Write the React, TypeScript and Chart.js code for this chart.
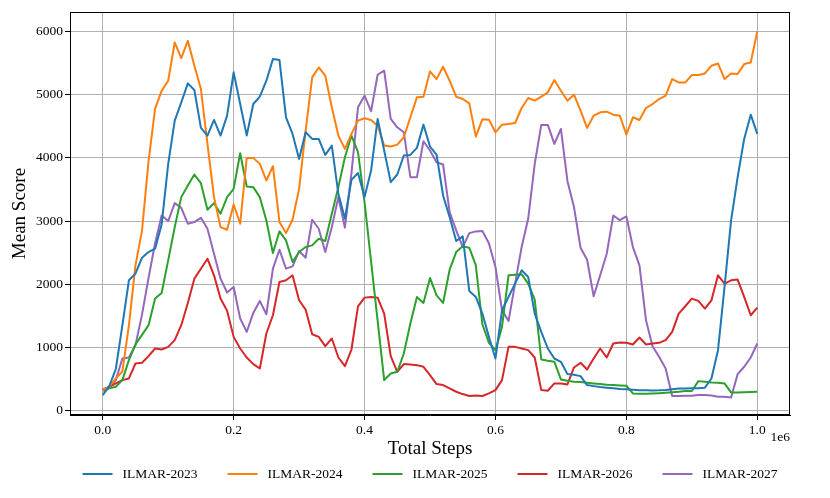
import { useEffect, useRef } from 'react';
import { Chart, registerables } from 'chart.js';

Chart.register(...registerables);

const SERIES_NAMES = ['ILMAR-2023', 'ILMAR-2024', 'ILMAR-2025', 'ILMAR-2026', 'ILMAR-2027'];
const SERIES_COLORS = ['#1f77b4', '#ff7f0e', '#2ca02c', '#d62728', '#9467bd'];

const ilmar2023 = [
  247, 390, 660, 1350, 2063, 2168, 2421, 2510, 2563, 2947,
  3900, 4589, 4879, 5179, 5074, 4474, 4353, 4600, 4353, 4668,
  5353, 4852, 4353, 4852, 4968, 5221, 5563, 5547, 4642, 4379,
  3984, 4405, 4300, 4300, 4047, 4195, 3431, 3037, 3652, 3760,
  3379, 3800, 4616, 4116, 3616, 3737, 4037, 4047, 4158, 4526,
  4179, 4053, 3405, 3063, 2684, 2758, 1895, 1800, 1537, 1168,
  826, 1589, 1800, 2010, 2221, 2116, 1537, 1247, 984, 826,
  774, 579, 568, 547, 405, 389, 375, 365, 355, 345,
  340, 332, 325, 322, 320, 322, 328, 338, 350, 353,
  355, 355, 365, 510, 958, 1958, 3010, 3695, 4300, 4684,
  4379,
];

const ilmar2024 = [
  326, 379, 510, 620, 1350, 2300, 2850, 3950, 4780, 5060,
  5220, 5826, 5579, 5852, 5458, 5089, 4221, 3379, 2905, 2863,
  3263, 2958, 4000, 4000, 3905, 3642, 3868, 2984, 2810, 3021,
  3510, 4431, 5273, 5431, 5300, 4800, 4353, 4142, 4379, 4589,
  4626, 4600, 4510, 4195, 4179, 4210, 4326, 4642, 4958, 4968,
  5368, 5247, 5442, 5221, 4968, 4931, 4863, 4337, 4610, 4605,
  4405, 4526, 4537, 4552, 4789, 4947, 4905, 4968, 5037, 5231,
  5063, 4905, 5000, 4747, 4474, 4668, 4721, 4731, 4684, 4668,
  4368, 4642, 4600, 4789, 4852, 4931, 4984, 5247, 5194, 5194,
  5310, 5310, 5336, 5458, 5494, 5247, 5336, 5326, 5484, 5510,
  6000,
];

const ilmar2025 = [
  316, 353, 379, 484, 800, 1050, 1200, 1353, 1774, 1863,
  2379, 2905, 3379, 3563, 3737, 3600, 3179, 3284, 3116, 3379,
  3510, 4074, 3547, 3537, 3379, 3010, 2495, 2837, 2695, 2353,
  2510, 2589, 2616, 2721, 2684, 3116, 3537, 4010, 4353, 4090,
  3300, 2360, 1420, 484, 589, 616, 905, 1379, 1800, 1705,
  2100, 1826, 1705, 2231, 2510, 2600, 2579, 2300, 1368, 1074,
  958, 1326, 2142, 2152, 2158, 2010, 1758, 810, 789, 774,
  495, 474, 458, 453, 442, 432, 421, 410, 405, 400,
  395, 274, 270, 268, 272, 278, 284, 292, 300, 311,
  311, 468, 458, 447, 442, 432, 289, 289, 292, 295,
  300,
];

const ilmar2026 = [
  326, 379, 432, 484, 510, 747, 758, 863, 984, 968,
  1010, 1116, 1353, 1705, 2089, 2247, 2405, 2142, 1774, 1580,
  1168, 984, 842, 737, 668, 1221, 1510, 2037, 2063, 2142,
  1747, 1600, 1210, 1168, 1021, 1142, 842, 705, 968, 1650,
  1789, 1800, 1789, 1537, 863, 616, 737, 731, 721, 695,
  563, 421, 405, 353, 300, 263, 232, 242, 232, 274,
  326, 484, 1010, 1010, 984, 958, 842, 326, 316, 432,
  432, 416, 684, 758, 653, 826, 984, 842, 1063, 1080,
  1074, 1047, 1158, 1047, 1063, 1074, 1116, 1247, 1537, 1653,
  1774, 1737, 1616, 1747, 2142, 2010, 2063, 2074, 1800, 1510,
  1631,
];

const ilmar2027 = [
  337, 379, 484, 826, 842, 1037, 1520, 2100, 2650, 3089,
  3000, 3284, 3210, 2958, 2984, 3052, 2879, 2484, 2089, 1870,
  1958, 1458, 1247, 1547, 1737, 1526, 2247, 2547, 2247, 2284,
  2526, 2421, 3021, 2879, 2510, 2905, 3379, 2895, 3758, 4800,
  4984, 4737, 5315, 5379, 4616, 4484, 4405, 3695, 3695, 4263,
  4116, 3931, 3895, 3142, 2852, 2589, 2810, 2837, 2842, 2650,
  2274, 1589, 1421, 2010, 2589, 3037, 3905, 4521, 4521, 4221,
  4458, 3631, 3221, 2579, 2389, 1810, 2142, 2484, 3089, 3015,
  3073, 2589, 2300, 1431, 1021, 853, 668, 232, 232, 237,
  237, 247, 247, 242, 221, 221, 210, 579, 695, 842,
  1063,
];

const SERIES_VALUES = [ilmar2023, ilmar2024, ilmar2025, ilmar2026, ilmar2027];

const STEP_INTERVAL = 10000;
const totalSteps = ilmar2023.map((_, i) => i * STEP_INTERVAL);

const xTickValues = [0, 200000, 400000, 600000, 800000, 1000000];
const xTickLabels = ['0.0', '0.2', '0.4', '0.6', '0.8', '1.0'];
const yTickValues = [0, 1000, 2000, 3000, 4000, 5000, 6000];
const yTickLabels = ['0', '1000', '2000', '3000', '4000', '5000', '6000'];

const X_TITLE = 'Total Steps';
const Y_TITLE = 'Mean Score';
const X_OFFSET_TEXT = '1e6';

const FONT = "'Liberation Serif', 'DejaVu Serif', serif";
const TICK_SIZE = 13.5;
const TITLE_SIZE = 19;

const framePlugin = {
  id: 'frame',
  afterDatasetsDraw(chart: any) {
    const { ctx, chartArea } = chart;
    ctx.save();
    ctx.strokeStyle = '#000';
    ctx.lineWidth = 1;
    ctx.strokeRect(
      Math.round(chartArea.left) + 0.5,
      Math.round(chartArea.top) + 0.5,
      Math.round(chartArea.right - chartArea.left) - 1,
      Math.round(chartArea.bottom - chartArea.top) - 1
    );
    ctx.restore();
  },
};

const offsetTextPlugin = {
  id: 'offsetText',
  afterDraw(chart: any) {
    const { ctx, chartArea } = chart;
    ctx.save();
    ctx.font = `${TICK_SIZE}px ${FONT}`;
    ctx.fillStyle = '#000';
    ctx.textAlign = 'right';
    ctx.textBaseline = 'middle';
    ctx.fillText(X_OFFSET_TEXT, chartArea.right, 437);
    ctx.restore();
  },
};

const bottomLegendPlugin = {
  id: 'bottomLegend',
  afterDraw(chart: any) {
    const { ctx, chartArea } = chart;
    const datasets = chart.data.datasets;
    const lineLen = 30;
    const gapText = 10;
    const gapItem = 30;
    const y = 474;
    ctx.save();
    ctx.font = `${TICK_SIZE}px ${FONT}`;
    const widths = datasets.map((d: any) => ctx.measureText(d.label).width);
    const total =
      widths.reduce((a: number, w: number) => a + lineLen + gapText + w, 0) +
      gapItem * (datasets.length - 1);
    let x = (chartArea.left + chartArea.right) / 2 - total / 2;
    datasets.forEach((d: any, i: number) => {
      ctx.strokeStyle = d.borderColor;
      ctx.lineWidth = 2;
      ctx.beginPath();
      ctx.moveTo(x, y);
      ctx.lineTo(x + lineLen, y);
      ctx.stroke();
      ctx.fillStyle = '#000';
      ctx.textAlign = 'left';
      ctx.textBaseline = 'middle';
      ctx.fillText(d.label, x + lineLen + gapText, y);
      x += lineLen + gapText + widths[i] + gapItem;
    });
    ctx.restore();
  },
};

export default function App() {
  const canvasRef = useRef<HTMLCanvasElement | null>(null);

  useEffect(() => {
    document.body.style.margin = '0';
    const canvas = canvasRef.current;
    if (!canvas) return;
    const chart = new Chart(canvas, {
      type: 'line',
      data: {
        labels: totalSteps,
        datasets: SERIES_VALUES.map((vals, i) => ({
          label: SERIES_NAMES[i],
          data: vals,
          borderColor: SERIES_COLORS[i],
          backgroundColor: SERIES_COLORS[i],
          borderWidth: 2,
          pointRadius: 0,
          pointHoverRadius: 0,
          tension: 0,
          fill: false,
          borderJoinStyle: 'round' as const,
        })),
      },
      options: {
        animation: false,
        responsive: false,
        maintainAspectRatio: false,
        devicePixelRatio: 1,
        layout: { padding: { left: 0, right: 40, top: 12, bottom: 0 } },
        plugins: {
          legend: { display: false },
          tooltip: { enabled: false },
        },
        scales: {
          x: {
            type: 'linear',
            min: -50000,
            max: 1050000,
            afterFit: (s: any) => {
              s.height = 83;
            },
            afterBuildTicks: (s: any) => {
              s.ticks = xTickValues.map((v) => ({ value: v }));
            },
            ticks: {
              autoSkip: false,
              maxRotation: 0,
              padding: 2,
              color: '#000',
              font: { family: FONT, size: TICK_SIZE },
              callback: (_v: any, idx: number) => xTickLabels[idx],
            },
            grid: {
              color: '#b0b0b0',
              lineWidth: 1,
              drawTicks: true,
              tickLength: 5,
              tickColor: '#000',
              tickWidth: 1,
            },
            border: { display: true, color: '#000', width: 1 },
            title: {
              display: true,
              text: X_TITLE,
              color: '#000',
              font: { family: FONT, size: TITLE_SIZE },
              padding: { top: 0, bottom: 38 },
            },
          },
          y: {
            type: 'linear',
            min: -68,
            max: 6308,
            afterFit: (s: any) => {
              s.width = 70;
            },
            afterBuildTicks: (s: any) => {
              s.ticks = yTickValues.map((v) => ({ value: v }));
            },
            ticks: {
              autoSkip: false,
              padding: 2,
              color: '#000',
              font: { family: FONT, size: TICK_SIZE },
              callback: (_v: any, idx: number) => yTickLabels[idx],
            },
            grid: {
              color: '#b0b0b0',
              lineWidth: 1,
              drawTicks: true,
              tickLength: 5,
              tickColor: '#000',
              tickWidth: 1,
            },
            border: { display: true, color: '#000', width: 1 },
            title: {
              display: true,
              text: Y_TITLE,
              color: '#000',
              font: { family: FONT, size: TITLE_SIZE },
              padding: { top: 9, bottom: 0 },
            },
          },
        },
      },
      plugins: [framePlugin, offsetTextPlugin, bottomLegendPlugin],
    });
    return () => chart.destroy();
  }, []);

  return (
    <div style={{ width: 830, height: 498 }}>
      <canvas ref={canvasRef} width={830} height={498} style={{ display: 'block' }} />
    </div>
  );
}
